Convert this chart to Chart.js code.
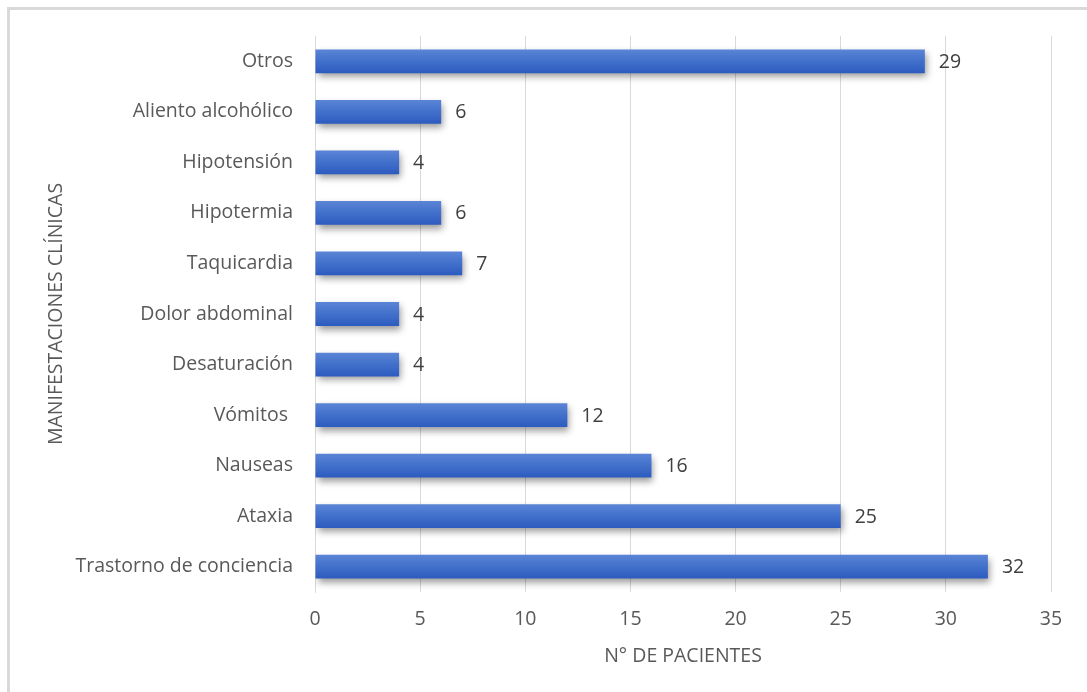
<!DOCTYPE html>
<html>
<head>
<meta charset="utf-8">
<script src="https://cdn.jsdelivr.net/npm/chart.js@4/dist/chart.umd.min.js"></script>
<style>
  html, body { margin: 0; padding: 0; background: #fff; }
  #wrap { position: absolute; left: 0; top: 0; width: 1087px; height: 692px; }
  #frame { position: absolute; left: 7px; top: 7px; width: 1090px; height: 700px;
           border-left: 3px solid #d9d9d9; border-top: 3px solid #d9d9d9; }
</style>
</head>
<body>
<div id="wrap">
  <div id="frame"></div>
  <canvas id="barChart" width="1087" height="692"></canvas>
</div>
<script>
// categories from top to bottom, as in the picture
const categories = ["Otros", "Aliento alcohólico", "Hipotensión", "Hipotermia", "Taquicardia",
  "Dolor abdominal", "Desaturación", "Vómitos ", "Nauseas", "Ataxia", "Trastorno de conciencia"];
const patients = [29, 6, 4, 6, 7, 4, 4, 12, 16, 25, 32];
const xTicks = [0, 5, 10, 15, 20, 25, 30, 35];

const textColor = "#595959";
const fontFamily = "'Open Sans', Lato, sans-serif";
const fontSize = 19.5;

// bars gradient, top to bottom across each bar
function barGradient(context) {
  const chart = context.chart;
  const yScale = chart.scales.y;
  if (!yScale || !chart.chartArea) return "#4472c4";
  const yc = yScale.getPixelForValue(context.dataIndex);
  const half = 12;
  const g = chart.ctx.createLinearGradient(0, yc - half, 0, yc + half);
  g.addColorStop(0, "#5b85d6");
  g.addColorStop(0.5, "#4170cb");
  g.addColorStop(1, "#2c5bbf");
  return g;
}

// soft shadow under bars
const barShadow = {
  id: "barShadow",
  beforeDatasetsDraw(chart) {
    const ctx = chart.ctx;
    ctx.save();
    ctx.shadowColor = "rgba(0,0,0,0.4)";
    ctx.shadowBlur = 7;
    ctx.shadowOffsetX = 2;
    ctx.shadowOffsetY = 4;
  },
  afterDatasetsDraw(chart) {
    chart.ctx.restore();
  }
};

// value labels at the end of each bar
const valueLabels = {
  id: "valueLabels",
  afterDraw(chart) {
    const ctx = chart.ctx;
    const meta = chart.getDatasetMeta(0);
    ctx.save();
    ctx.font = fontSize + "px " + fontFamily;
    ctx.fillStyle = "#404040";
    ctx.textAlign = "left";
    ctx.textBaseline = "middle";
    meta.data.forEach((bar, i) => {
      ctx.fillText(String(patients[i]), bar.x + 14, bar.y + 1);
    });
    ctx.restore();
  }
};

const ctx = document.getElementById("barChart").getContext("2d");
const barChart = new Chart(ctx, {
  type: "bar",
  data: {
    labels: categories,
    datasets: [
      {
        label: "N° de pacientes",
        data: patients,
        backgroundColor: barGradient,
        borderWidth: 0,
        categoryPercentage: 1,
        barPercentage: 0.47,
      },
    ],
  },
  options: {
    indexAxis: "y",
    responsive: false,
    animation: false,
    layout: { padding: { left: 0, top: 36, right: 36, bottom: 10 } },
    plugins: {
      legend: { display: false },
      tooltip: { enabled: false },
    },
    scales: {
      x: {
        min: 0,
        max: 35,
        afterBuildTicks(scale) {
          scale.ticks = xTicks.map((v) => ({ value: v }));
        },
        afterFit(scale) {
          scale.height = 90;
        },
        grid: { color: "#d9d9d9", drawTicks: false },
        border: { display: false },
        ticks: {
          color: textColor,
          font: { size: fontSize, family: fontFamily },
          padding: 16,
        },
        title: {
          display: true,
          text: "N° DE PACIENTES",
          color: textColor,
          font: { size: fontSize, family: fontFamily },
          padding: { top: 0, bottom: 14 },
        },
      },
      y: {
        afterFit(scale) {
          scale.width = 315;
        },
        grid: { display: false, drawTicks: false },
        border: { display: true, color: "#d9d9d9", width: 1 },
        ticks: {
          color: textColor,
          font: { size: fontSize, family: fontFamily },
          padding: 22,
        },
        title: {
          display: true,
          text: "MANIFESTACIONES CLÍNICAS",
          color: textColor,
          font: { size: fontSize, family: fontFamily },
          padding: { top: 45, bottom: 0 },
        },
      },
    },
  },
  plugins: [barShadow, valueLabels],
});
</script>
</body>
</html>
